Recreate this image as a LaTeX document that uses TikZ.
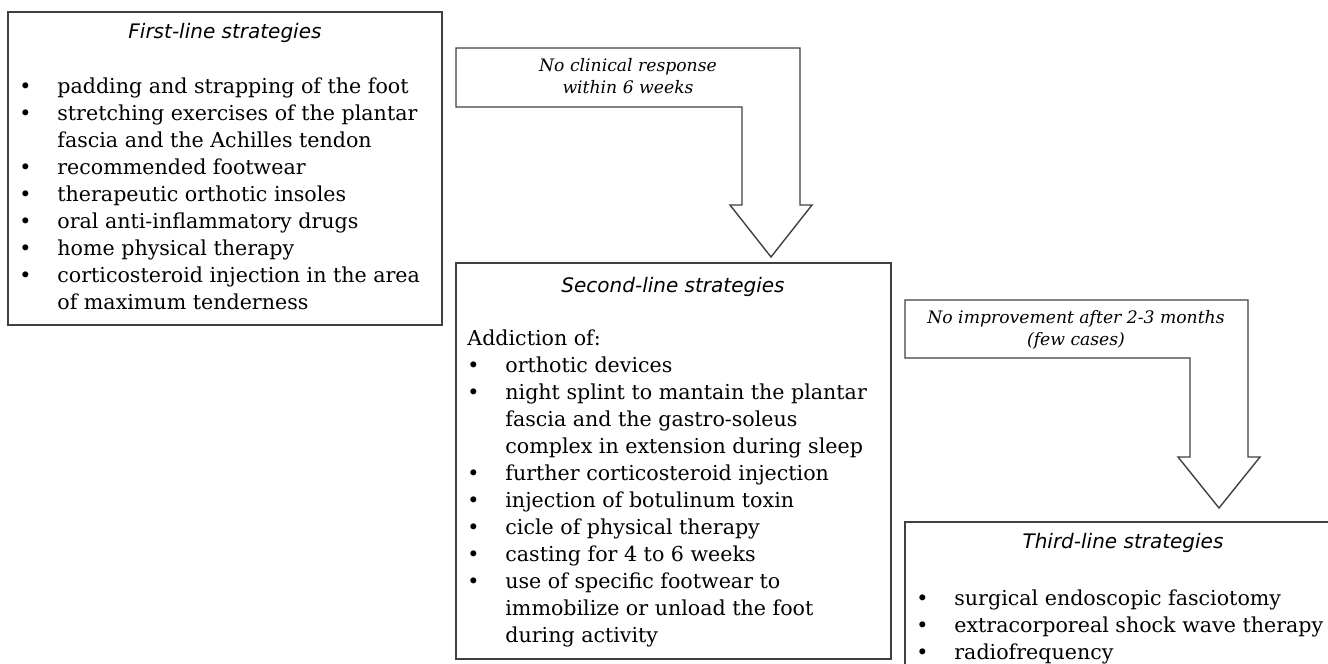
\documentclass[tikz,border=0pt]{standalone}
\usepackage{fontspec}
\setmainfont{DejaVu Serif}
\newfontfamily\headfont{DejaVu Sans}
\newfontfamily\notefont{DejaVu Serif}
\usetikzlibrary{positioning}

\tikzset{
	box/.style={draw=black!75, line width=0.7pt},
	barrow/.style={draw=black!75, line width=0.7pt, fill=white},
	title/.style={anchor=base, inner sep=0pt, font=\headfont\itshape\fontsize{10}{12}\selectfont},
	note/.style={anchor=base, inner sep=0pt, align=center, font=\notefont\itshape\fontsize{8.6}{10.6}\selectfont},
	items/.style={anchor=base west, inner sep=0pt, font=\fontsize{10.3}{13.5}\selectfont}
}
\newcommand{\bul}{\textbullet}

\begin{document}
\begin{tikzpicture}[x=0.5pt, y=-0.5pt]
	\useasboundingbox (0, 0) rectangle (1328, 664);
	\clip (0, 0) rectangle (1328, 664);
	% boxes
	\draw[box] (8, 12) rectangle (442, 325);
	\draw[box] (456, 263) rectangle (891, 659);
	\draw[box] (905, 522) rectangle (1350, 690);
	% block arrows
	\draw[barrow] (456, 48) -- (800, 48) -- (800, 205) -- (812, 205) -- (771, 257)
		-- (730, 205) -- (742, 205) -- (742, 107) -- (456, 107) -- cycle;
	\draw[barrow] (905, 300) -- (1248, 300) -- (1248, 457) -- (1260, 457) -- (1219, 508)
		-- (1178, 457) -- (1190, 457) -- (1190, 358) -- (905, 358) -- cycle;
	\node[note] (resp) at (628, 93) {No clinical response\\within 6 weeks};
	\node[note] (impr) at (1076, 345) {No improvement after 2-3 months\\(few cases)};
	% first line
	\node[title] (first) at (225, 39) {First-line strategies};
	\node[items] (firstlist) at (19, 93) {\begin{tabular}[t]{@{}p{19pt}@{}l@{}}
		\bul & padding and strapping of the foot\\
		\bul & stretching exercises of the plantar\\
		     & fascia and the Achilles tendon\\
		\bul & recommended footwear\\
		\bul & therapeutic orthotic insoles\\
		\bul & oral anti-inflammatory drugs\\
		\bul & home physical therapy\\
		\bul & corticosteroid injection in the area\\
		     & of maximum tenderness
	\end{tabular}};
	% second line
	\node[title] (second) at (673, 292) {Second-line strategies};
	\node[items] (secondlist) at (467, 345) {\begin{tabular}[t]{@{}p{19pt}@{}l@{}}
		\multicolumn{2}{@{}l@{}}{Addiction of:}\\
		\bul & orthotic devices\\
		\bul & night splint to mantain the plantar\\
		     & fascia and the gastro-soleus\\
		     & complex in extension during sleep\\
		\bul & further corticosteroid injection\\
		\bul & injection of botulinum toxin\\
		\bul & cicle of physical therapy\\
		\bul & casting for 4 to 6 weeks\\
		\bul & use of specific footwear to\\
		     & immobilize or unload the foot\\
		     & during activity
	\end{tabular}};
	% third line
	\node[title] (third) at (1123, 548) {Third-line strategies};
	\node[items] (thirdlist) at (916, 605) {\begin{tabular}[t]{@{}p{19pt}@{}l@{}}
		\bul & surgical endoscopic fasciotomy\\
		\bul & extracorporeal shock wave therapy\\
		\bul & radiofrequency
	\end{tabular}};
\end{tikzpicture}
\end{document}
